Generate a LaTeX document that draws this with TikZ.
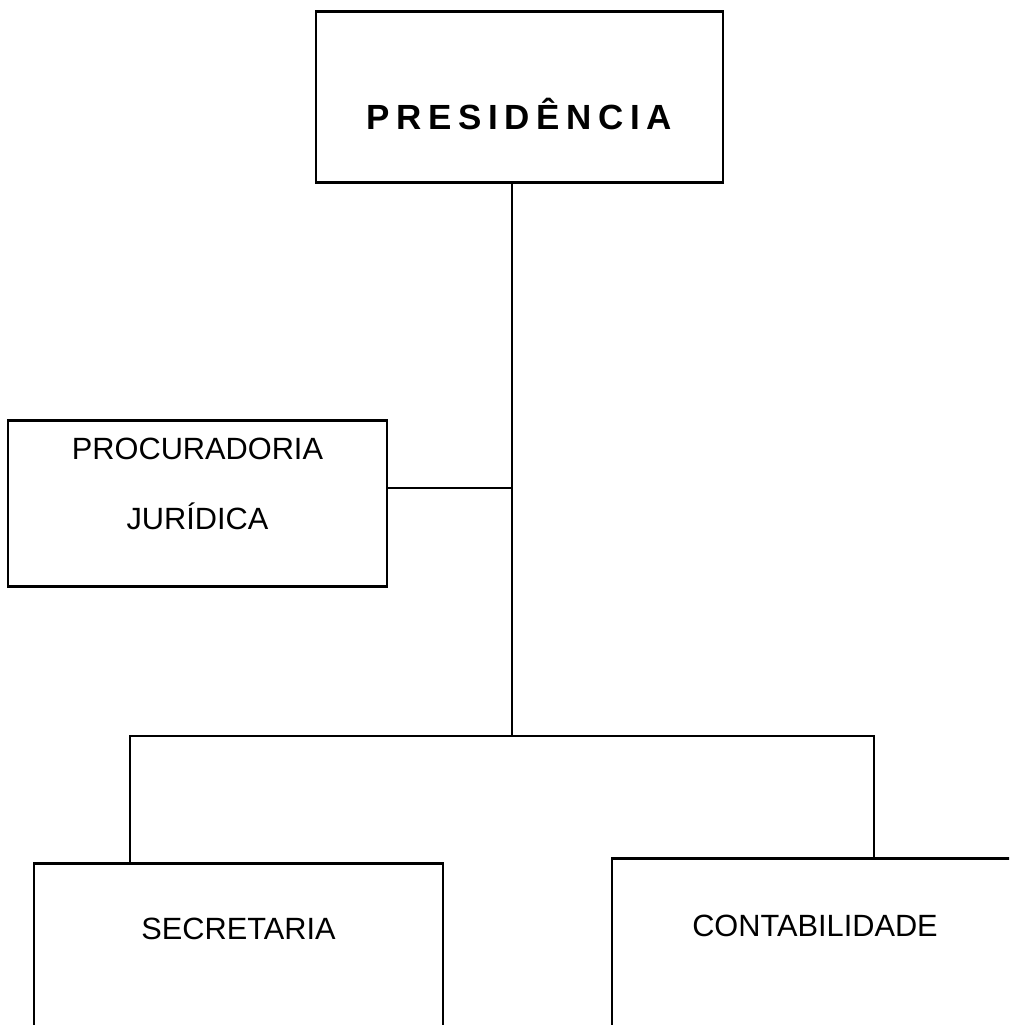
\documentclass[tikz,border=0pt]{standalone}
\usepackage{fontspec}
\setmainfont{Liberation Sans}
\newfontfamily\presfont[LetterSpace=19]{Liberation Sans}
\usepackage{tikz}

\tikzset{
  unit/.style={draw, line width=1.6pt, inner sep=0pt, anchor=north, align=center},
  link/.style={line width=1.6pt}
}

\begin{document}
\begin{tikzpicture}[x=0.02cm, y=-0.02cm, font=\fontsize{17.5}{21}\selectfont]
\useasboundingbox (0,0) rectangle (1009,1025);
\clip (0,0) rectangle (1009,1025);
\node[unit, minimum width=8.14cm, text height=2.36cm, text depth=1.06cm,
  font=\presfont\bfseries\fontsize{19.9}{24}\selectfont] (pres) at (519.5,10) {PRESIDÊNCIA};
\node[unit, minimum width=7.58cm, text height=2.18cm, text depth=1.14cm,
  font=\fontsize{17.5}{40}\selectfont] (proc) at (197.5,419) {PROCURADORIA\\JURÍDICA};
\node[unit, minimum width=8.18cm, text height=1.52cm, text depth=2cm] (sec) at (238.5,862) {SECRETARIA};
\node[unit, minimum width=8.12cm, text height=1.56cm, text depth=2cm] (cont) at (815,857) {CONTABILIDADE};

\coordinate (branch) at (512,488);
\coordinate (hub) at (512,736);
\coordinate (lturn) at (130,736);
\coordinate (rturn) at (874,736);

\draw[link] (pres.south -| hub) -- (hub);
\draw[link] (proc.east |- branch) -- (branch);
\draw[link] (sec.north -| lturn) -- (lturn) -- (rturn) -- (cont.north -| rturn);
\end{tikzpicture}
\end{document}
